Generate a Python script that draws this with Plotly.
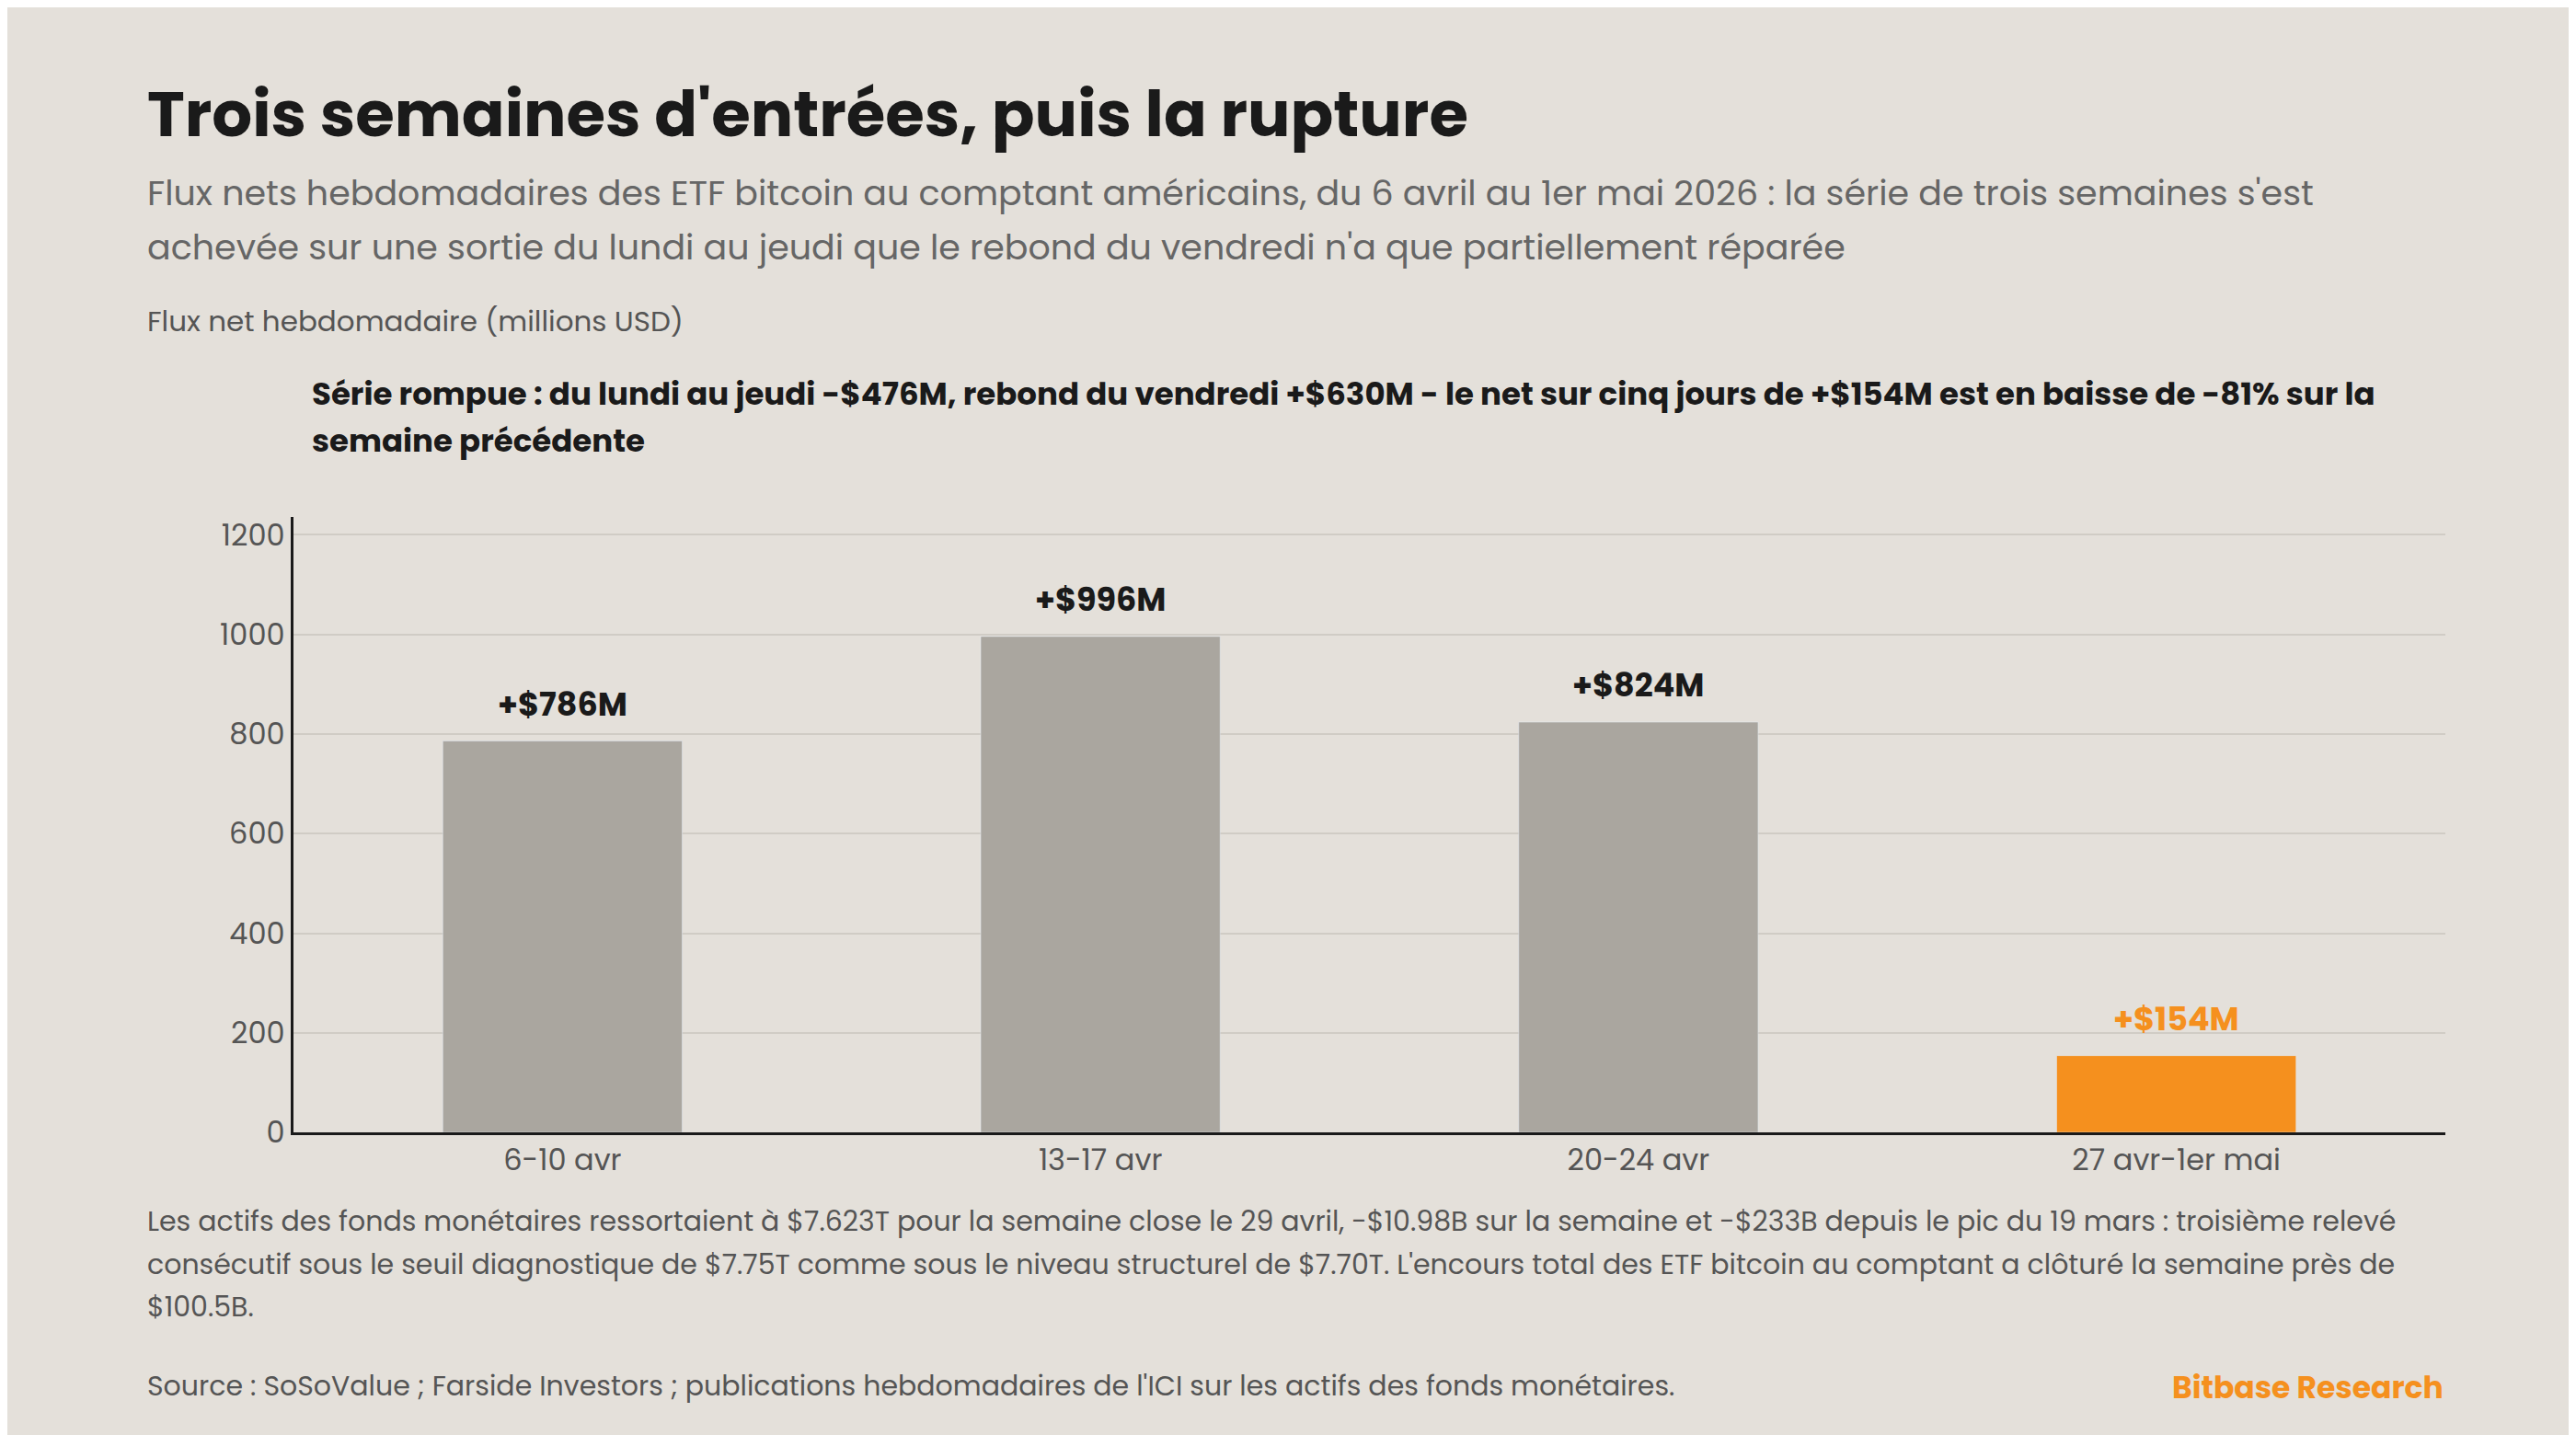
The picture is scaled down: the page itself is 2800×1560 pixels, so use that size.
import plotly.graph_objects as go

weeks = ["6-10 avr", "13-17 avr", "20-24 avr", "27 avr-1er mai"]
flows = [786, 996, 824, 154]
labels = ["+$786M", "+$996M", "+$824M", "+$154M"]
colors = ["#AAA69F", "#AAA69F", "#AAA69F", "#F5901E"]
label_colors = ["#1a1a1a", "#1a1a1a", "#1a1a1a", "#F5901E"]

W, H = 2800, 1560
S = W / 1568
L, R, T, B = 311, 150, 554, 337
PW, PH = W - L - R, H - T - B
FONT = "Poppins, Inter, Noto Sans, sans-serif"


def px(x):
    return (x * S - L) / PW


def py(y):
    return (H - B - y * S) / PH


fig = go.Figure()
fig.add_trace(go.Bar(
    x=weeks, y=flows, marker_color=colors, width=0.445,
    hoverinfo="skip",
))
for w, v, lab, c in zip(weeks, flows, labels, label_colors):
    fig.add_annotation(x=w, y=v, text=f"<b>{lab}</b>", showarrow=False,
                       yanchor="bottom", yshift=14,
                       font=dict(size=35, color=c, family=FONT))

fig.update_layout(
    width=W, height=H,
    paper_bgcolor="#E4E0DA", plot_bgcolor="#E4E0DA",
    margin=dict(l=L, r=R, t=T, b=B),
    showlegend=False,
    font=dict(family=FONT, color="#555"),
    xaxis=dict(showline=True, linecolor="#1a1a1a", linewidth=3,
               tickfont=dict(size=32, color="#555"), ticks=""),
    yaxis=dict(range=[0, 1236], tickvals=[0, 200, 400, 600, 800, 1000, 1200],
               showline=True, linecolor="#1a1a1a", linewidth=3,
               gridcolor="#D0CCC5", gridwidth=2, zeroline=False,
               tickfont=dict(size=32, color="#555"), ticksuffix="  "),
)

notes = [
    (84, 65, "<b>Trois semaines d'entrées, puis la rupture</b>", 69, "#1a1a1a"),
    (84, 113, "Flux nets hebdomadaires des ETF bitcoin au comptant américains, du 6 avril au 1er mai 2026 : la série de trois semaines s'est", 38, "#666"),
    (84, 146, "achevée sur une sortie du lundi au jeudi que le rebond du vendredi n'a que partiellement réparée", 38, "#666"),
    (84, 191, "Flux net hebdomadaire (millions USD)", 31, "#555"),
    (184, 235, "<b>Série rompue : du lundi au jeudi -$476M, rebond du vendredi +$630M - le net sur cinq jours de +$154M est en baisse de -81% sur la</b>", 34, "#1a1a1a"),
    (184, 264, "<b>semaine précédente</b>", 34, "#1a1a1a"),
    (84, 739, "Les actifs des fonds monétaires ressortaient à $7.623T pour la semaine close le 29 avril, -$10.98B sur la semaine et -$233B depuis le pic du 19 mars : troisième relevé", 30, "#555"),
    (84, 765, "consécutif sous le seuil diagnostique de $7.75T comme sous le niveau structurel de $7.70T. L'encours total des ETF bitcoin au comptant a clôturé la semaine près de", 30, "#555"),
    (84, 791, "$100.5B.", 30, "#555"),
    (84, 839, "Source : SoSoValue ; Farside Investors ; publications hebdomadaires de l'ICI sur les actifs des fonds monétaires.", 30, "#555"),
]
for x, y, txt, size, col in notes:
    fig.add_annotation(x=px(x), y=py(y), xref="paper", yref="paper",
                       text=txt, showarrow=False, xanchor="left", yanchor="middle",
                       align="left", font=dict(size=size, color=col, family=FONT))

fig.add_annotation(x=px(1484), y=py(840), xref="paper", yref="paper",
                   text="<b>Bitbase Research</b>", showarrow=False,
                   xanchor="right", yanchor="middle",
                   font=dict(size=33, color="#F5901E", family=FONT))

fig.write_html("out.html")
